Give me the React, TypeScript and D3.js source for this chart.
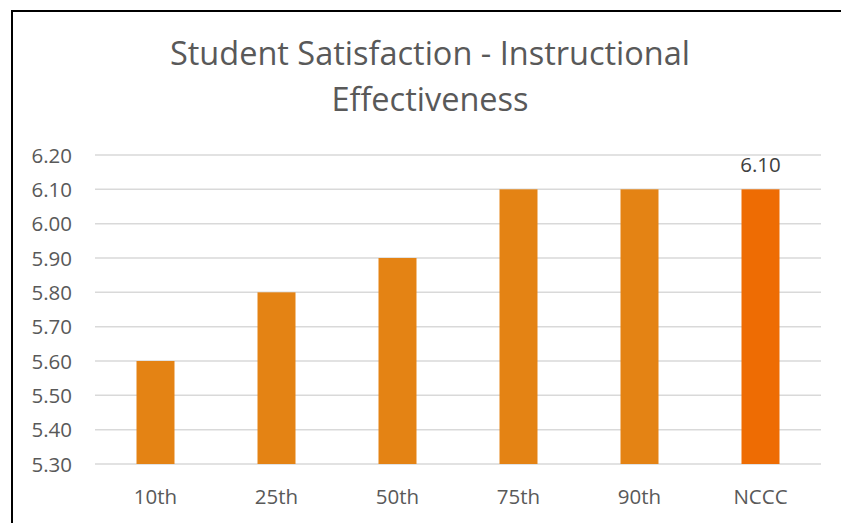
import React from "react";
import * as d3 from "d3";

const categories = ["10th", "25th", "50th", "75th", "90th", "NCCC"];
const values = [5.6, 5.8, 5.9, 6.1, 6.1, 6.1];
const yTicks = [5.3, 5.4, 5.5, 5.6, 5.7, 5.8, 5.9, 6.0, 6.1, 6.2];
const titleLines = ["Student Satisfaction - Instructional", "Effectiveness"];
const labelledCategory = "NCCC";

export default function App() {
  const W = 841, H = 523;
  const left = 95, right = 821, top = 155, bottom = 464;
  const x = d3.scaleBand<string>().domain(categories).range([left, right]).paddingInner(0.686).paddingOuter(0.343);
  const y = d3.scaleLinear().domain([5.3, 6.2]).range([bottom, top]);
  const font = "'Open Sans', sans-serif";
  const textColor = "#595959";
  const fs = 20.5;
  return (
    <svg width={W} height={H} style={{ position: "absolute", left: 0, top: 0, background: "#fff" }}>
      <rect x={0} y={0} width={W} height={H} fill="#fff" />
      <line x1={12} y1={11} x2={W} y2={11} stroke="#000" strokeWidth={2} />
      <line x1={12} y1={10} x2={12} y2={H} stroke="#000" strokeWidth={2} />
      {titleLines.map((t, i) => (
        <text key={t} x={430} y={65 + i * 46} textAnchor="middle" fontFamily={font} fontSize={32.5} fill={textColor}>{t}</text>
      ))}
      {yTicks.map((v) => (
        <g key={v}>
          <line x1={left} x2={right} y1={y(v)} y2={y(v)} stroke="#d9d9d9" strokeWidth={1.5} />
          <text x={72} y={y(v) + 7.5} textAnchor="end" fontFamily={font} fontSize={fs} fill={textColor}>{v.toFixed(2)}</text>
        </g>
      ))}
      {categories.map((c, i) => (
        <g key={c}>
          <rect x={x(c)} y={y(values[i])} width={x.bandwidth()} height={y(5.3) - y(values[i])} fill={c === labelledCategory ? "#EE6C03" : "#E48314"} />
          <text x={(x(c) as number) + x.bandwidth() / 2} y={503.5} textAnchor="middle" fontFamily={font} fontSize={fs} fill={textColor}>{c}</text>
          {c === labelledCategory && (
            <text x={(x(c) as number) + x.bandwidth() / 2} y={y(values[i]) - 17.5} textAnchor="middle" fontFamily={font} fontSize={fs} fill="#404040">{values[i].toFixed(2)}</text>
          )}
        </g>
      ))}
    </svg>
  );
}
